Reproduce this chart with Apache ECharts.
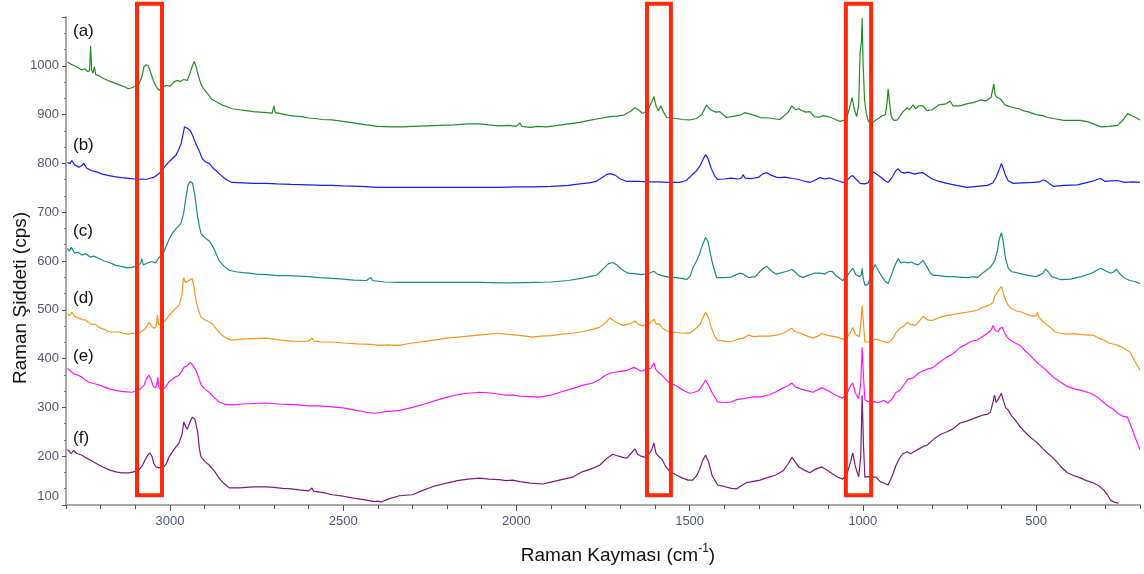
<!DOCTYPE html>
<html>
<head>
<meta charset="utf-8">
<script src="https://cdn.jsdelivr.net/npm/echarts@6/dist/echarts.min.js"></script>
<style>
html,body{margin:0;padding:0;background:#fff;}
#chart{width:1144px;height:574px;}
</style>
</head>
<body>
<div id="chart"></div>
<script>
// ---------- DATA (wavenumber cm-1, intensity cps) ----------
const seriesNames = ['(a)', '(b)', '(c)', '(d)', '(e)', '(f)'];
const xTickLabels = [3000, 2500, 2000, 1500, 1000, 500];
const yTickLabels = [100, 200, 300, 400, 500, 600, 700, 800, 900, 1000];
const highlightBands = [[3095, 3023], [1623, 1554], [1049, 976]];
const highlightY = [120, 1127];

const specA = [[3296,1008],[3285,1003],[3275,1000],[3265,996],[3255,992],[3245,994],[3238,988],[3232,990],[3229,1041],[3226,992],[3222,985],[3218,998],[3214,982],[3205,980],[3195,975],[3185,972],[3176,969],[3165,966],[3150,962],[3135,958],[3120,953],[3110,955],[3100,958],[3090,962],[3082,975],[3075,998],[3068,1002],[3062,1000],[3055,985],[3048,970],[3040,958],[3032,950],[3022,955],[3010,960],[3000,958],[2990,966],[2980,970],[2970,968],[2960,972],[2950,970],[2942,985],[2935,1000],[2930,1009],[2925,1000],[2918,980],[2910,962],[2900,950],[2890,942],[2880,932],[2865,926],[2850,920],[2835,916],[2820,912],[2800,910],[2780,908],[2760,906],[2740,905],[2720,904],[2705,903],[2700,918],[2696,904],[2680,902],[2660,899],[2640,897],[2620,896],[2600,893],[2580,892],[2560,890],[2532,889],[2500,886],[2470,883],[2433,879],[2400,876],[2360,875],[2330,875],[2300,876],[2260,877],[2220,878],[2180,879],[2140,881],[2106,881],[2080,879],[2050,877],[2020,878],[2000,876],[1990,883],[1985,876],[1960,874],[1940,876],[1913,875],[1880,878],[1850,881],[1817,884],[1790,888],[1760,892],[1730,896],[1710,897],[1690,899],[1670,907],[1658,914],[1648,910],[1635,902],[1620,910],[1610,925],[1603,937],[1597,918],[1590,908],[1583,918],[1575,905],[1566,894],[1540,892],[1520,890],[1500,889],[1480,892],[1465,900],[1451,920],[1440,910],[1425,905],[1413,906],[1400,898],[1393,894],[1370,897],[1350,900],[1341,904],[1330,902],[1310,898],[1297,894],[1270,893],[1240,890],[1215,905],[1205,918],[1195,910],[1185,912],[1175,908],[1165,905],[1153,906],[1140,896],[1125,895],[1115,898],[1100,896],[1085,892],[1066,886],[1055,888],[1045,897],[1038,915],[1031,935],[1025,912],[1018,896],[1012,920],[1008,1027],[1004,1050],[1002,1098],[999,1000],[995,930],[990,903],[984,886],[975,882],[960,890],[945,897],[935,900],[930,925],[927,953],[923,925],[918,896],[910,888],[900,889],[885,905],[872,914],[865,910],[855,920],[848,912],[838,918],[826,918],[815,908],[800,910],[780,920],[760,922],[748,928],[740,918],[720,918],[700,922],[680,925],[660,930],[645,928],[630,935],[622,963],[618,940],[612,935],[603,932],[590,920],[570,915],[550,912],[537,908],[520,905],[500,900],[480,898],[467,894],[450,892],[420,888],[400,888],[372,888],[350,885],[330,880],[314,875],[290,876],[265,878],[250,888],[236,902],[225,898],[210,893],[200,889]];

const specB = [[3296,802],[3288,800],[3283,806],[3275,797],[3263,792],[3255,795],[3249,800],[3240,790],[3225,785],[3210,782],[3195,778],[3176,775],[3160,773],[3140,771],[3125,770],[3110,769],[3095,767],[3080,768],[3069,767],[3055,770],[3045,772],[3032,779],[3020,788],[3012,796],[3000,805],[2990,812],[2983,816],[2975,828],[2968,840],[2962,860],[2958,875],[2950,872],[2942,868],[2935,858],[2925,840],[2915,825],[2907,810],[2897,803],[2887,800],[2875,790],[2858,779],[2840,768],[2821,761],[2790,760],[2760,759],[2722,759],[2690,758],[2650,757],[2600,756],[2560,755],[2532,755],[2500,754],[2450,753],[2400,751],[2350,751],[2300,751],[2250,751],[2200,751],[2150,751],[2100,751],[2050,751],[2000,752],[1950,752],[1900,753],[1850,755],[1817,758],[1790,760],[1770,763],[1750,772],[1740,777],[1730,779],[1715,776],[1700,768],[1681,763],[1650,763],[1620,762],[1590,762],[1560,761],[1528,761],[1510,765],[1495,775],[1480,785],[1470,795],[1460,810],[1454,818],[1447,810],[1438,790],[1428,775],[1419,767],[1400,768],[1380,770],[1360,768],[1350,770],[1346,777],[1340,770],[1320,769],[1300,772],[1290,778],[1277,781],[1265,776],[1250,772],[1240,771],[1225,772],[1210,770],[1202,769],[1185,767],[1170,764],[1153,761],[1140,765],[1124,771],[1110,768],[1095,770],[1080,766],[1065,763],[1058,761],[1045,766],[1035,773],[1029,775],[1020,768],[1008,759],[995,758],[985,760],[975,775],[970,783],[960,778],[945,770],[935,764],[927,761],[915,772],[905,785],[898,789],[890,782],[880,780],[870,782],[860,780],[850,778],[840,780],[826,781],[815,775],[800,768],[780,763],[757,759],[730,755],[699,751],[670,753],[640,755],[625,760],[615,772],[605,790],[600,800],[595,790],[588,775],[580,764],[566,759],[540,760],[510,761],[490,762],[480,766],[473,765],[460,758],[450,753],[420,755],[380,756],[340,763],[320,768],[314,769],[300,763],[285,764],[265,765],[245,761],[220,762],[200,761]];

const specC = [[3296,626],[3290,620],[3285,628],[3275,616],[3265,618],[3255,612],[3243,615],[3230,608],[3220,610],[3205,605],[3190,600],[3175,597],[3156,591],[3140,589],[3125,586],[3110,587],[3095,590],[3085,595],[3081,605],[3077,592],[3065,596],[3052,599],[3042,596],[3032,607],[3020,615],[3012,628],[3002,645],[2994,656],[2980,668],[2968,677],[2960,700],[2954,730],[2948,755],[2942,763],[2935,760],[2928,735],[2922,700],[2915,670],[2910,656],[2903,650],[2896,646],[2885,640],[2875,628],[2858,601],[2845,590],[2829,581],[2810,578],[2790,576],[2772,575],[2750,573],[2720,572],[2690,570],[2660,570],[2627,569],[2600,568],[2570,566],[2540,565],[2500,563],[2470,561],[2433,560],[2420,566],[2415,560],[2380,557],[2338,556],[2300,556],[2250,556],[2200,556],[2150,556],[2100,556],[2050,555],[2000,555],[1950,556],[1900,557],[1850,560],[1810,565],[1790,568],[1768,571],[1755,580],[1745,587],[1735,594],[1722,597],[1710,592],[1700,585],[1690,580],[1678,575],[1660,574],[1640,572],[1620,574],[1610,577],[1603,579],[1595,574],[1580,570],[1560,567],[1540,566],[1520,564],[1508,562],[1498,570],[1491,585],[1480,600],[1471,615],[1462,635],[1454,648],[1447,640],[1440,615],[1436,601],[1428,580],[1422,566],[1400,566],[1380,567],[1365,572],[1355,575],[1345,573],[1330,566],[1310,568],[1295,580],[1285,586],[1277,589],[1265,580],[1250,573],[1230,577],[1215,580],[1205,583],[1195,577],[1185,570],[1173,566],[1160,570],[1140,575],[1124,575],[1110,573],[1100,578],[1089,579],[1075,568],[1058,560],[1045,570],[1035,580],[1029,585],[1020,572],[1010,568],[1004,572],[1002,585],[999,565],[994,550],[985,552],[975,575],[965,593],[955,580],[945,568],[935,558],[927,554],[918,570],[908,590],[898,605],[890,596],[880,598],[870,596],[860,598],[850,594],[840,592],[826,601],[815,588],[805,575],[797,571],[780,570],[760,568],[740,568],[720,567],[700,566],[680,568],[670,566],[655,575],[645,580],[632,587],[620,600],[612,620],[606,645],[600,658],[595,640],[588,605],[580,585],[570,578],[555,576],[540,573],[520,570],[500,568],[480,575],[473,583],[465,578],[455,568],[450,564],[430,562],[400,563],[370,568],[340,575],[314,585],[300,580],[285,575],[275,578],[268,583],[260,575],[245,565],[230,560],[215,558],[200,554]];

const specD = [[3296,492],[3290,488],[3283,495],[3275,486],[3265,484],[3255,480],[3243,479],[3235,474],[3225,470],[3215,470],[3205,464],[3190,460],[3180,456],[3168,454],[3150,455],[3135,452],[3120,450],[3110,452],[3095,451],[3082,455],[3070,462],[3061,474],[3054,468],[3046,462],[3040,465],[3036,489],[3033,470],[3025,470],[3018,475],[3012,479],[3003,488],[2994,495],[2985,502],[2974,509],[2965,530],[2962,560],[2960,566],[2955,556],[2950,552],[2945,560],[2940,558],[2936,564],[2930,545],[2925,519],[2918,500],[2910,485],[2900,480],[2890,476],[2879,472],[2865,460],[2850,448],[2835,441],[2821,438],[2790,440],[2760,441],[2722,442],[2700,440],[2680,438],[2650,436],[2620,435],[2600,436],[2590,442],[2585,436],[2560,434],[2532,434],[2500,432],[2460,430],[2420,429],[2395,427],[2370,428],[2340,427],[2300,432],[2260,436],[2220,440],[2201,442],[2170,444],[2140,446],[2110,448],[2080,450],[2057,452],[2030,450],[2000,448],[1975,446],[1953,444],[1930,446],[1900,447],[1870,450],[1840,452],[1810,455],[1780,460],[1760,464],[1745,472],[1737,478],[1730,483],[1720,478],[1705,472],[1693,468],[1680,470],[1670,472],[1658,477],[1648,470],[1635,467],[1625,470],[1615,472],[1603,481],[1596,470],[1588,472],[1578,462],[1568,458],[1557,454],[1540,454],[1520,452],[1500,452],[1485,460],[1470,470],[1462,483],[1454,495],[1446,484],[1438,465],[1428,446],[1419,438],[1400,436],[1390,434],[1375,436],[1360,440],[1345,442],[1330,448],[1315,445],[1297,446],[1270,446],[1250,448],[1230,452],[1215,458],[1205,462],[1195,455],[1180,452],[1160,446],[1144,442],[1130,446],[1118,452],[1105,448],[1090,446],[1075,444],[1058,440],[1045,443],[1035,455],[1029,464],[1022,450],[1010,445],[1006,470],[1002,509],[998,470],[994,434],[985,434],[975,436],[962,440],[945,436],[927,432],[915,440],[905,452],[893,462],[883,466],[872,474],[862,470],[848,468],[838,476],[826,487],[815,480],[800,478],[780,484],[760,488],[740,490],[719,493],[700,495],[685,497],[670,499],[655,505],[640,508],[630,512],[624,515],[620,526],[615,530],[608,540],[600,548],[595,535],[588,520],[580,509],[570,502],[555,497],[540,495],[525,490],[510,487],[500,487],[496,495],[492,485],[480,476],[470,470],[459,464],[445,455],[430,452],[410,450],[390,451],[370,449],[350,448],[334,448],[320,442],[305,438],[290,432],[278,430],[265,427],[250,423],[240,418],[228,413],[215,395],[200,376]];

const specE = [[3296,380],[3290,376],[3283,372],[3275,368],[3265,366],[3254,362],[3245,356],[3235,352],[3225,350],[3215,348],[3205,346],[3190,342],[3175,338],[3156,335],[3140,333],[3125,332],[3110,331],[3095,334],[3085,338],[3075,345],[3068,358],[3061,366],[3055,358],[3048,343],[3042,340],[3037,350],[3035,362],[3032,340],[3023,335],[3012,342],[3003,352],[2990,360],[2974,366],[2965,375],[2960,382],[2950,385],[2942,392],[2935,388],[2925,376],[2917,360],[2910,346],[2900,338],[2887,331],[2872,320],[2858,311],[2840,306],[2821,305],[2790,307],[2760,308],[2722,309],[2690,307],[2660,306],[2630,305],[2600,303],[2570,303],[2532,301],[2500,299],[2470,295],[2433,290],[2410,288],[2390,290],[2370,292],[2338,294],[2300,300],[2260,308],[2230,315],[2201,321],[2170,326],[2140,329],[2106,331],[2080,330],[2050,327],[2030,325],[2011,325],[1990,323],[1960,322],[1933,321],[1900,325],[1870,332],[1840,338],[1810,345],[1780,350],[1760,357],[1745,365],[1730,370],[1715,372],[1700,374],[1680,376],[1661,382],[1650,378],[1640,374],[1625,378],[1612,380],[1603,391],[1598,378],[1590,372],[1580,366],[1570,358],[1557,350],[1540,345],[1525,338],[1510,332],[1500,329],[1490,330],[1475,334],[1463,345],[1454,356],[1445,345],[1435,330],[1419,311],[1400,310],[1380,311],[1364,316],[1345,318],[1330,320],[1310,322],[1297,321],[1270,326],[1250,332],[1230,340],[1215,345],[1205,350],[1195,342],[1180,338],[1165,335],[1144,331],[1130,336],[1118,340],[1105,336],[1090,330],[1075,324],[1058,319],[1045,330],[1035,345],[1029,350],[1022,330],[1012,318],[1006,350],[1002,423],[998,360],[994,315],[985,312],[970,312],[955,310],[940,314],[927,309],[915,318],[905,330],[893,335],[880,348],[870,358],[865,362],[855,360],[840,370],[826,375],[815,378],[797,382],[780,392],[760,402],[740,410],[719,423],[700,430],[685,436],[670,438],[655,445],[640,452],[630,458],[624,468],[618,458],[610,455],[604,462],[598,464],[592,455],[585,445],[575,438],[560,432],[546,427],[530,415],[515,405],[496,391],[480,382],[465,372],[450,362],[430,352],[410,343],[390,338],[370,335],[343,329],[325,322],[305,310],[290,302],[275,295],[265,288],[250,282],[236,280],[225,260],[212,235],[200,213]];

const specF = [[3296,213],[3290,210],[3285,205],[3278,212],[3270,206],[3262,204],[3254,202],[3245,198],[3235,194],[3225,190],[3215,186],[3205,182],[3190,177],[3175,172],[3156,168],[3140,166],[3125,166],[3119,166],[3105,168],[3090,172],[3080,180],[3072,192],[3064,202],[3058,207],[3052,200],[3046,184],[3040,178],[3032,176],[3020,176],[3010,185],[3003,198],[2990,212],[2974,227],[2965,245],[2960,270],[2955,262],[2950,255],[2942,270],[2936,280],[2928,276],[2920,250],[2915,215],[2910,198],[2900,190],[2887,182],[2872,170],[2858,155],[2845,145],[2829,135],[2800,135],[2780,136],[2760,137],[2722,137],[2700,136],[2675,134],[2650,133],[2627,131],[2600,129],[2590,135],[2585,128],[2560,126],[2532,121],[2500,118],[2470,114],[2433,110],[2410,107],[2400,108],[2390,106],[2370,112],[2338,119],[2300,121],[2270,130],[2240,138],[2201,145],[2170,150],[2140,153],[2106,155],[2080,153],[2050,152],[2030,150],[2011,151],[1990,148],[1960,145],[1924,143],[1900,147],[1870,152],[1838,157],[1810,168],[1780,175],[1759,182],[1740,195],[1722,204],[1705,200],[1690,197],[1681,196],[1670,205],[1658,215],[1650,204],[1640,200],[1630,198],[1620,202],[1610,212],[1603,227],[1597,206],[1590,200],[1580,194],[1570,180],[1557,168],[1540,162],[1520,155],[1505,151],[1491,151],[1480,160],[1470,175],[1462,192],[1454,202],[1445,188],[1435,160],[1419,141],[1400,138],[1380,134],[1364,133],[1350,140],[1335,146],[1320,148],[1297,151],[1280,155],[1265,158],[1250,162],[1230,170],[1215,185],[1205,198],[1195,188],[1185,178],[1170,172],[1153,166],[1140,172],[1130,175],[1118,178],[1105,172],[1090,165],[1075,158],[1058,153],[1045,165],[1035,190],[1029,207],[1022,180],[1012,158],[1006,200],[1002,325],[998,220],[994,157],[985,158],[975,157],[962,157],[950,148],[940,145],[927,141],[915,160],[905,180],[895,195],[885,205],[872,209],[862,205],[850,210],[838,215],[826,220],[814,223],[800,232],[790,238],[775,245],[757,250],[740,256],[719,268],[700,272],[685,276],[670,280],[655,284],[640,286],[632,290],[624,312],[620,325],[615,310],[608,318],[600,329],[595,315],[588,300],[580,294],[570,282],[560,274],[546,260],[530,248],[515,238],[496,227],[480,215],[465,205],[450,196],[430,180],[410,166],[390,160],[370,155],[355,150],[334,145],[320,140],[305,131],[295,122],[285,110],[275,106],[262,104]];

const spectra = [specA, specB, specC, specD, specE, specF];
const colors = ['#238c23', '#1a1aff', '#178a8a', '#f5961e', '#ff14ff', '#7d1a7d'];

// ---------- CHART ----------
const chart = echarts.init(document.getElementById('chart'), null, {renderer: 'canvas'});
const FONT = 'Liberation Sans, Arial, sans-serif';
const labelColor = '#525873';

const option = {
  animation: false,
  backgroundColor: '#ffffff',
  grid: {left: 66, right: 4, top: 17, bottom: 69, containLabel: false},
  xAxis: [{
    type: 'value', inverse: true, min: 200, max: 3300, interval: 100,
    axisLine: {show: true, lineStyle: {color: '#a8a8a8', width: 2}},
    axisTick: {show: true, length: 4, lineStyle: {color: '#555'}},
    splitLine: {show: false},
    axisLabel: {
      margin: 10, fontSize: 13, color: labelColor, fontFamily: FONT,
      formatter: v => xTickLabels.indexOf(v) >= 0 ? String(v) : ''
    }
  }, {
    type: 'value', inverse: true, min: 200, max: 3300, position: 'bottom',
    axisLine: {show: false},
    axisTick: {show: true, length: 6, customValues: xTickLabels, lineStyle: {color: '#555'}},
    axisLabel: {show: false},
    splitLine: {show: false}
  }],
  yAxis: {
    type: 'value', min: 100, max: 1100, interval: 100,
    axisLine: {show: true, lineStyle: {color: '#a8a8a8', width: 2}},
    axisTick: {show: true, length: 4, lineStyle: {color: '#555'}},
    minorTick: {show: true, splitNumber: 3, length: 2, lineStyle: {color: '#777'}},
    splitLine: {show: false},
    axisLabel: {
      margin: 7, fontSize: 13, color: labelColor, fontFamily: FONT,
      formatter: v => yTickLabels.indexOf(v) < 0 ? '' : (v === yTickLabels[0] ? '{low|' + v + '}' : String(v)),
      rich: {low: {fontSize: 13, color: labelColor, fontFamily: FONT, padding: [0, 0, 18, 0]}}
    }
  },
  series: spectra.map((d, i) => ({
    name: seriesNames[i], type: 'line', data: d, showSymbol: false,
    lineStyle: {color: colors[i], width: 1.2}, itemStyle: {color: colors[i]},
    z: 2 + i
  }))
};
chart.setOption(option);

// annotations: series tags, axis titles, red highlight boxes
const tagY = [33, 147, 233, 300, 358, 440];
const graphics = [];
seriesNames.forEach((t, i) => {
  graphics.push({type: 'text', left: 73, top: tagY[i] - 10, z: 50,
    style: {text: t, font: '17px ' + FONT, fill: '#111'}});
});
graphics.push({
  type: 'text', x: 11, y: 298, rotation: Math.PI / 2, z: 50,
  style: {text: 'Raman Şiddeti (cps)', font: '19px ' + FONT, fill: '#111',
    align: 'center', verticalAlign: 'top'}
});
graphics.push({
  type: 'text', x: 618, y: 543, z: 50,
  style: {
    text: '{m|Raman Kayması (cm}{s|-1}{m|)}', align: 'center', verticalAlign: 'top',
    rich: {
      m: {font: '19px ' + FONT, fill: '#111', verticalAlign: 'bottom', lineHeight: 22},
      s: {font: '12px ' + FONT, fill: '#111', verticalAlign: 'top', lineHeight: 22, padding: [0, 0, 10, 0]}
    }
  }
});
highlightBands.forEach(b => {
  const p1 = chart.convertToPixel({gridIndex: 0}, [b[0], highlightY[1]]);
  const p2 = chart.convertToPixel({gridIndex: 0}, [b[1], highlightY[0]]);
  graphics.push({
    type: 'rect', z: 60,
    shape: {x: p1[0], y: p1[1], width: p2[0] - p1[0], height: p2[1] - p1[1]},
    style: {fill: 'none', stroke: '#ff2a0a', lineWidth: 4}
  });
});
chart.setOption({graphic: graphics});
</script>
</body>
</html>
